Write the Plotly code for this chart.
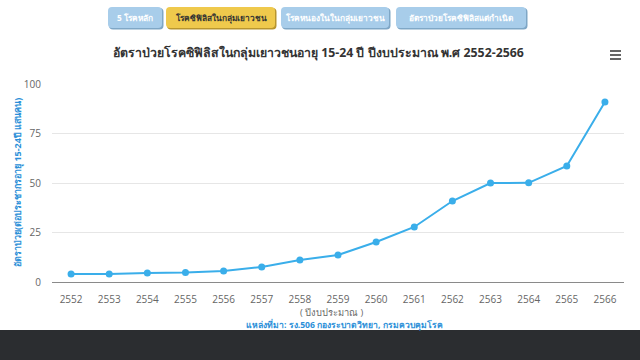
import plotly.graph_objects as go

years = ["2552", "2553", "2554", "2555", "2556", "2557", "2558", "2559",
         "2560", "2561", "2562", "2563", "2564", "2565", "2566"]
rates = [4.0, 4.0, 4.5, 4.8, 5.6, 7.6, 11.1, 13.6, 20.2, 27.8, 40.9, 50.0, 50.1, 58.6, 90.9]
y_ticks = [0, 25, 50, 75, 100]

title_text = "อัตราป่วยโรคซิฟิลิสในกลุ่มเยาวชนอายุ 15-24 ปี ปีงบประมาณ พ.ศ 2552-2566"
y_title = "อัตราป่วย(ต่อประชากรอายุ 15-24ปี แสนคน)"
x_title = "( ปีงบประมาณ )"
source_text = "แหล่งที่มา: รง.506 กองระบาดวิทยา, กรมควบคุมโรค"
buttons = ["5 โรคหลัก", "โรคซิฟิลิสในกลุ่มเยาวชน", "โรคหนองในในกลุ่มเยาวชน", "อัตราป่วยโรคซิฟิลิสแต่กำเนิด"]

W, H = 640, 360
ML, MR, MT, MB = 52, 16, 84, 78
PW, PH = W - ML - MR, H - MT - MB

def px(x):
    return (x - ML) / PW

def py(y):
    return (H - MB - y) / PH

FONT = "Open Sans, Noto Sans, sans-serif"

fig = go.Figure()
fig.add_trace(go.Scatter(
    x=years, y=rates, mode="lines+markers",
    line=dict(color="#3aaeea", width=2),
    marker=dict(color="#3aaeea", size=7),
    hoverinfo="x+y",
))

shapes = []
annotations = []

# dark band at bottom
shapes.append(dict(type="rect", xref="paper", yref="paper",
                   x0=px(-5), x1=px(645), y0=py(330), y1=py(365),
                   fillcolor="#2b2d30", line=dict(width=0), layer="above"))

def rrect(x0, y0, x1, y1, r):
    X0, X1 = px(x0), px(x1)
    Y0, Y1 = py(y0), py(y1)
    rx = r / PW
    ry = r / PH
    return (f"M{X0+rx},{Y0} L{X1-rx},{Y0} Q{X1},{Y0} {X1},{Y0-ry} "
            f"L{X1},{Y1+ry} Q{X1},{Y1} {X1-rx},{Y1} L{X0+rx},{Y1} "
            f"Q{X0},{Y1} {X0},{Y1+ry} L{X0},{Y0-ry} Q{X0},{Y0} {X0+rx},{Y0} Z")

btn_pos = [(108, 162), (166, 275), (281, 389), (396, 526)]
for i, (lbl, (bx0, bx1)) in enumerate(zip(buttons, btn_pos)):
    active = i == 1
    fill = "#efc94c" if active else "#a8cdea"
    shadow = "#b8952e" if active else "#7fa7c6"
    shapes.append(dict(type="path", xref="paper", yref="paper",
                       path=rrect(bx0 + 1, 8, bx1 + 1.5, 29.5, 4),
                       fillcolor=shadow, line=dict(width=0), layer="above"))
    shapes.append(dict(type="path", xref="paper", yref="paper",
                       path=rrect(bx0, 7, bx1, 28, 4),
                       fillcolor=fill, line=dict(width=0), layer="above"))
    annotations.append(dict(
        x=px((bx0 + bx1) / 2), y=py(17.5), xref="paper", yref="paper",
        text=f"<b>{lbl}</b>", showarrow=False, xanchor="center", yanchor="middle",
        font=dict(size=8.3, color="#333333" if active else "#ffffff", family=FONT)))

# hamburger icon
for yy in (51, 55, 59):
    shapes.append(dict(type="line", xref="paper", yref="paper",
                       x0=px(610), x1=px(621), y0=py(yy), y1=py(yy),
                       line=dict(color="#666666", width=2)))

annotations.append(dict(x=px(318), y=py(52), xref="paper", yref="paper",
                        text=f"<b>{title_text}</b>", showarrow=False,
                        xanchor="center", yanchor="middle",
                        font=dict(size=12.3, color="#333333", family=FONT)))
annotations.append(dict(x=px(17), y=py(183), xref="paper", yref="paper",
                        text=f"<b>{y_title}</b>", showarrow=False, textangle=-90,
                        xanchor="center", yanchor="middle",
                        font=dict(size=9, color="#2b8fd8", family=FONT)))
annotations.append(dict(x=px(332), y=py(312), xref="paper", yref="paper",
                        text=x_title, showarrow=False,
                        xanchor="center", yanchor="middle",
                        font=dict(size=9.3, color="#666666", family=FONT)))
annotations.append(dict(x=px(345), y=py(324), xref="paper", yref="paper",
                        text=f"<b>{source_text}</b>", showarrow=False,
                        xanchor="center", yanchor="middle",
                        font=dict(size=8.6, color="#2b8fd8", family=FONT)))

fig.update_layout(
    width=W, height=H,
    margin=dict(l=ML, r=MR, t=MT, b=MB),
    paper_bgcolor="white", plot_bgcolor="white",
    showlegend=False,
    shapes=shapes, annotations=annotations,
    font=dict(family=FONT),
    xaxis=dict(type="category", range=[-0.5, len(years) - 0.5],
               showgrid=False, showline=True, linecolor="#8a8a8a", linewidth=1,
               ticks="", tickfont=dict(size=10, color="#666666"), ticklabelstandoff=8),
    yaxis=dict(range=[0, 100], tickvals=y_ticks, showgrid=True, gridcolor="#e6e6e6",
               zeroline=False, showline=False, ticks="",
               tickfont=dict(size=10, color="#666666"), ticklabelstandoff=10),
)

fig.write_html("out.html")
